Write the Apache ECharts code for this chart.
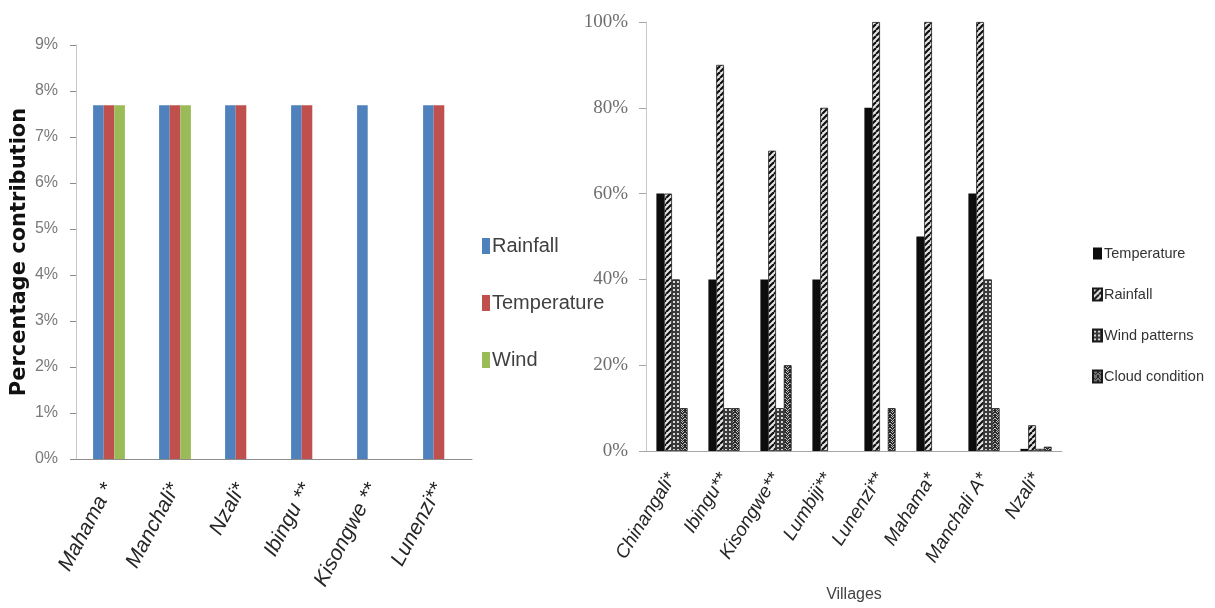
<!DOCTYPE html>
<html>
<head>
<meta charset="utf-8">
<script src="https://cdn.jsdelivr.net/npm/echarts@6/dist/echarts.min.js"></script>
<style>
  html, body { margin: 0; padding: 0; background: #ffffff; }
  #wrap { position: relative; width: 1215px; height: 608px; }
  .pane { position: absolute; left: 0; top: 0; width: 1215px; height: 608px; }
</style>
</head>
<body>
<div id="wrap">
  <div id="left" class="pane"></div>
  <div id="right" class="pane"></div>
</div>
<script>
// ---- Left panel: contribution per village ----
const leftVillages = ['Mahama *', 'Manchali*', 'Nzali*', 'Ibingu **', 'Kisongwe **', 'Lunenzi**'];
const leftRainfall = [7.69, 7.69, 7.69, 7.69, 7.69, 7.69];
const leftTemperature = [7.69, 7.69, 7.69, 7.69, null, 7.69];
const leftWind = [7.69, 7.69, null, null, null, null];

// ---- Right panel: share of respondents per climate indicator ----
const rightVillages = ['Chinangali*', 'Ibingu**', 'Kisongwe**', 'Lumbiji**', 'Lunenzi**', 'Mahama*', 'Manchali A*', 'Nzali*'];
const rightTemperature = [60, 40, 40, 40, 80, 50, 60, 0.5];
const rightRainfall = [60, 90, 70, 80, 100, 100, 100, 6];
const rightWindPatterns = [40, 10, 10, null, null, null, 40, 0.5];
const rightCloudCondition = [10, 10, 20, null, 10, null, 10, 1];

const SANS = '"Liberation Sans", Arial, sans-serif';

// hatch fills for the monochrome panel
function makePattern(draw, w, h) {
  const c = document.createElement('canvas');
  c.width = w; c.height = h;
  draw(c.getContext('2d'), w, h);
  return { image: c, repeat: 'repeat' };
}
const hatchDiag = makePattern(function (g, w, h) {
  g.fillStyle = '#e6e6e6'; g.fillRect(0, 0, w, h);
  g.strokeStyle = '#111'; g.lineWidth = 2.2;
  for (let k = -w; k <= w; k += w) {
    g.beginPath(); g.moveTo(k, h); g.lineTo(k + w, 0); g.stroke();
  }
}, 6, 6);
const hatchGrid = makePattern(function (g, w, h) {
  g.fillStyle = '#3a3a3a'; g.fillRect(0, 0, w, h);
  g.fillStyle = '#d8d8d8'; g.fillRect(1, 1, 2, 2);
}, 4, 4);
const hatchCross = makePattern(function (g, w, h) {
  g.fillStyle = '#2a2a2a'; g.fillRect(0, 0, w, h);
  g.fillStyle = '#bdbdbd';
  g.fillRect(2, 0, 1, 1); g.fillRect(1, 1, 1, 1); g.fillRect(3, 1, 1, 1);
  g.fillRect(2, 2, 1, 1);
  g.fillRect(0, 3, 1, 1); g.fillRect(4, 3, 1, 1);
  g.fillRect(1, 4, 1, 1); g.fillRect(3, 4, 1, 1);
}, 5, 5);

const leftChart = echarts.init(document.getElementById('left'), null, { renderer: 'canvas' });
leftChart.setOption({
  animation: false,
  backgroundColor: 'transparent',
  grid: { left: 76, top: 45, width: 396, height: 414, containLabel: false },
  legend: {
    orient: 'vertical', left: 477, top: 231,
    itemWidth: 8, itemHeight: 16, itemGap: 37,
    icon: 'rect',
    textStyle: { fontFamily: SANS, fontSize: 20, color: '#404040', padding: [0, 0, 0, -3] },
    data: ['Rainfall', 'Temperature', 'Wind']
  },
  xAxis: {
    type: 'category', data: leftVillages, boundaryGap: true,
    axisLine: { lineStyle: { color: '#8c8c8c', width: 1 } },
    axisTick: { show: false },
    axisLabel: {
      rotate: 62, margin: 26, interval: 0,
      fontFamily: SANS, fontStyle: 'italic', fontSize: 21, color: '#262626'
    }
  },
  yAxis: {
    type: 'value', min: 0, max: 9, interval: 1,
    name: 'Percentage contribution', nameLocation: 'middle', nameGap: 46,
    nameTextStyle: { fontFamily: '"DejaVu Sans", sans-serif', fontWeight: 'bold', fontSize: 21, color: '#111' },
    axisLine: { show: true, lineStyle: { color: '#c8c8c8' } },
    axisTick: { show: true, length: 6, lineStyle: { color: '#8c8c8c' } },
    splitLine: { show: false },
    axisLabel: { formatter: '{value}%', margin: 18, fontFamily: SANS, fontSize: 16, color: '#7a7a7a' }
  },
  series: [
    { name: 'Rainfall', type: 'bar', data: leftRainfall, barWidth: 10.6, barGap: '0%', itemStyle: { color: '#4f81bd' } },
    { name: 'Temperature', type: 'bar', data: leftTemperature, barWidth: 10.6, barGap: '0%', itemStyle: { color: '#c0504d' } },
    { name: 'Wind', type: 'bar', data: leftWind, barWidth: 10.6, barGap: '0%', itemStyle: { color: '#9bbb59' } }
  ]
});

const rightChart = echarts.init(document.getElementById('right'), null, { renderer: 'canvas' });
const outline = { borderColor: '#1a1a1a', borderWidth: 0.8 };
rightChart.setOption({
  animation: false,
  backgroundColor: 'transparent',
  grid: { left: 646, top: 22, width: 416, height: 432, containLabel: false },
  legend: {
    orient: 'vertical', left: 1087, top: 241,
    itemWidth: 9, itemHeight: 12, itemGap: 26,
    icon: 'rect',
    textStyle: { fontFamily: SANS, fontSize: 14.5, color: '#333', padding: [0, 0, 0, -3] },
    data: ['Temperature', 'Rainfall', 'Wind patterns', 'Cloud condition']
  },
  xAxis: {
    type: 'category', data: rightVillages, boundaryGap: true,
    name: 'Villages', nameLocation: 'middle', nameGap: 136,
    nameTextStyle: { fontFamily: SANS, fontSize: 16, color: '#444' },
    axisLine: { lineStyle: { color: '#a6a6a6', width: 1 } },
    axisTick: { show: false },
    axisLabel: {
      rotate: 58, margin: 24, interval: 0,
      fontFamily: SANS, fontStyle: 'italic', fontSize: 19, color: '#262626'
    }
  },
  yAxis: {
    type: 'value', min: 0, max: 100, interval: 20,
    axisLine: { show: true, lineStyle: { color: '#c8c8c8' } },
    axisTick: { show: true, length: 7, lineStyle: { color: '#a6a6a6' } },
    splitLine: { show: false },
    axisLabel: { formatter: '{value}%', margin: 18, fontFamily: '"Liberation Serif", serif', fontSize: 19, color: '#6e6e6e' }
  },
  series: [
    { name: 'Temperature', type: 'bar', data: rightTemperature, barWidth: 7.8, barGap: '0%', itemStyle: { color: '#0d0d0d' } },
    { name: 'Rainfall', type: 'bar', data: rightRainfall, barWidth: 7.8, barGap: '0%', itemStyle: Object.assign({ color: hatchDiag }, outline) },
    { name: 'Wind patterns', type: 'bar', data: rightWindPatterns, barWidth: 7.8, barGap: '0%', itemStyle: Object.assign({ color: hatchGrid }, outline) },
    { name: 'Cloud condition', type: 'bar', data: rightCloudCondition, barWidth: 7.8, barGap: '0%', itemStyle: Object.assign({ color: hatchCross }, outline) }
  ]
});
</script>
</body>
</html>
